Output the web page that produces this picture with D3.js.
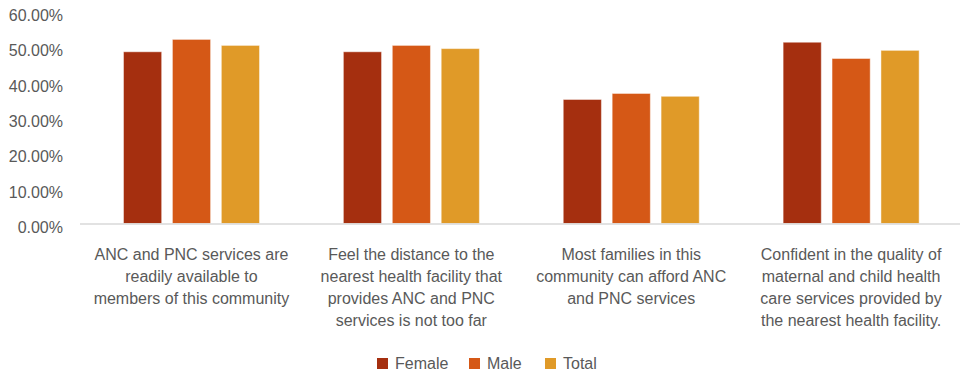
<!DOCTYPE html>
<html><head><meta charset="utf-8">
<script src="https://cdn.jsdelivr.net/npm/d3@7"></script>
<style>body{margin:0;background:#fff;} text{font-family:"Liberation Sans",Arial,sans-serif;}</style>
</head><body><svg id="c" width="960" height="372"></svg>
<script>
const categories = [
  "ANC and PNC services are\nreadily available to\nmembers of this community",
  "Feel the distance to the\nnearest health facility that\nprovides ANC and PNC\nservices is not too far",
  "Most families in this\ncommunity can afford ANC\nand PNC services",
  "Confident in the quality of\nmaternal and child health\ncare services provided by\nthe nearest health facility."
];
const seriesNames = ["Female", "Male", "Total"];
const female = [0.486, 0.486, 0.351, 0.513];
const male   = [0.521, 0.504, 0.368, 0.467];
const total  = [0.504, 0.495, 0.360, 0.490];
const colors = ["#A52F0F", "#D55816", "#E09A28"];
const yTicks = [0, 0.1, 0.2, 0.3, 0.4, 0.5, 0.6];

const series = [female, male, total];
const svg = d3.select("#c");
const x0 = d3.scaleBand().domain(d3.range(categories.length)).range([81.5, 961]).paddingInner(0).paddingOuter(0);
const x1 = d3.scaleBand().domain(d3.range(3)).range([42, 220 - 42]).paddingInner(0.22).paddingOuter(0);
const y = d3.scaleLinear().domain([0, 0.6]).range([223.5, 11.5]);

// y axis labels
svg.append("g").selectAll("text").data(yTicks).join("text")
  .attr("x", 63).attr("y", d => y(d) + 4).attr("dy", "0.35em")
  .attr("text-anchor", "end").attr("font-size", 16).attr("fill", "#595959")
  .text(d => d3.format(".2%")(d));

// bars
const g = svg.append("g");
categories.forEach((c, i) => {
  series.forEach((s, j) => {
    g.append("rect")
      .attr("x", x0(i) + x1(j)).attr("y", y(s[i]))
      .attr("width", x1.bandwidth()).attr("height", y(0) - y(s[i]))
      .attr("fill", colors[j])
      .attr("stroke", "#ffffff").attr("stroke-opacity", 0.45).attr("stroke-width", 1);
  });
});

// axis line
svg.append("line").attr("x1", 80).attr("x2", 960).attr("y1", y(0) + 0.5).attr("y2", y(0) + 0.5)
  .attr("stroke", "#d9d9d9").attr("stroke-width", 1.5);

// category labels
categories.forEach((c, i) => {
  const t = svg.append("text").attr("text-anchor", "middle").attr("font-size", 16).attr("fill", "#595959");
  c.split("\n").forEach((line, k) => {
    t.append("tspan").attr("x", x0(i) + x0.bandwidth() / 2).attr("y", 254 + k * 22).attr("dy", "0.35em").text(line);
  });
});

// legend
const legendX = [377, 469, 545];
seriesNames.forEach((n, j) => {
  svg.append("rect").attr("x", legendX[j]).attr("y", 358).attr("width", 11).attr("height", 11).attr("fill", colors[j]);
  svg.append("text").attr("x", legendX[j] + 18).attr("y", 363.5).attr("dy", "0.35em")
    .attr("font-size", 16).attr("fill", "#595959").text(n);
});
</script></body></html>
